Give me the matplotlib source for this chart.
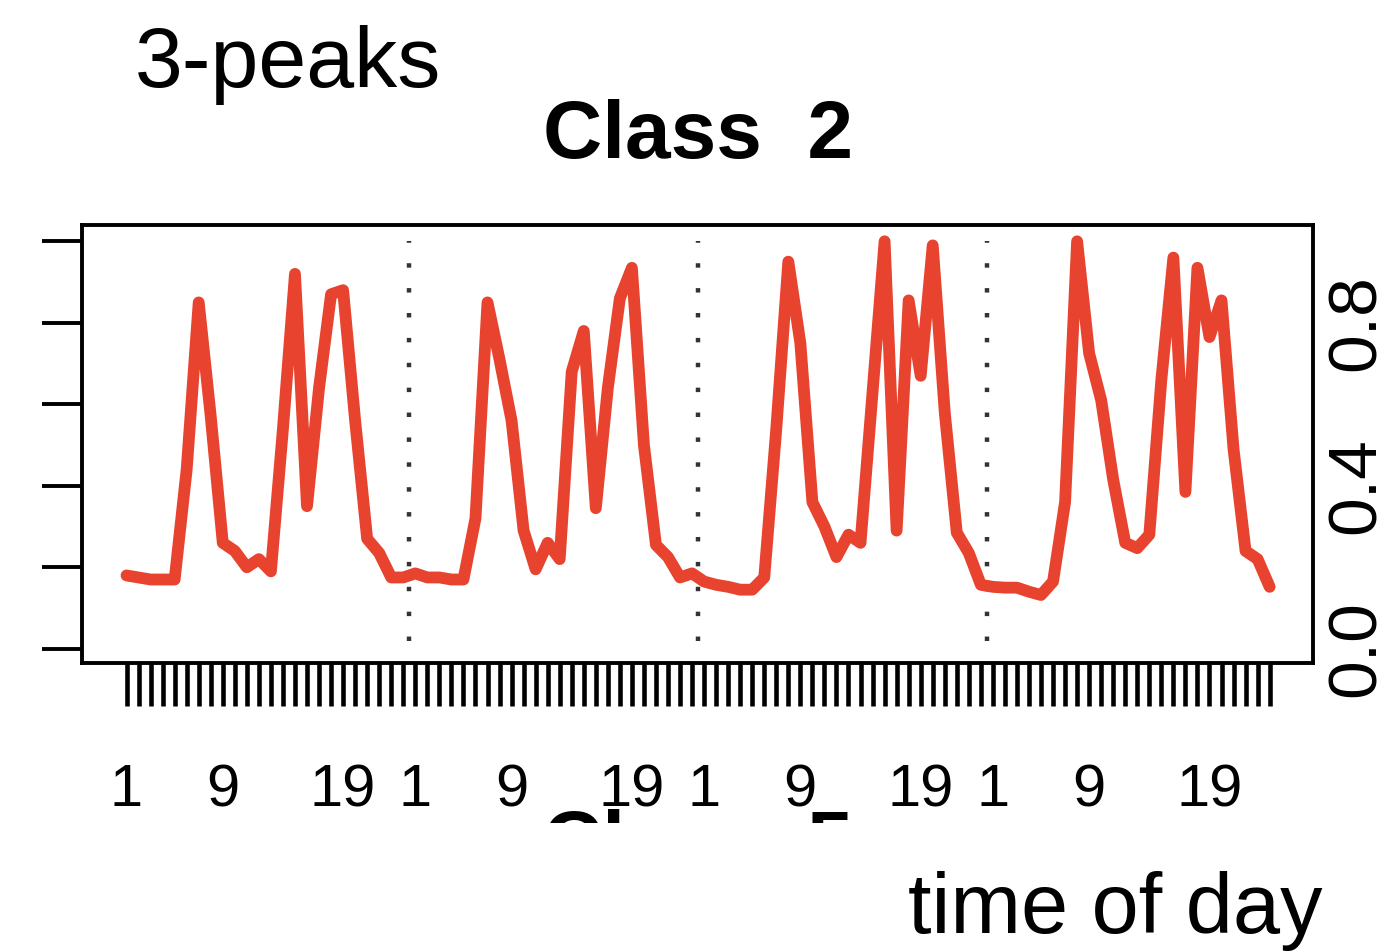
import numpy as np
import matplotlib
matplotlib.use("Agg")
import matplotlib.pyplot as plt
from matplotlib.transforms import Bbox, TransformedBbox

plt.rcParams["font.family"] = ["Liberation Sans", "DejaVu Sans"]

# hourly profile of class 2, four days of 24 hours
day1 = [0.18, 0.175, 0.17, 0.17, 0.17, 0.44, 0.85, 0.57, 0.26, 0.24, 0.20, 0.22,
        0.19, 0.54, 0.92, 0.35, 0.64, 0.87, 0.88, 0.56, 0.27, 0.235, 0.175, 0.175]
day2 = [0.185, 0.175, 0.175, 0.17, 0.17, 0.32, 0.85, 0.71, 0.56, 0.29, 0.195, 0.26,
        0.22, 0.68, 0.78, 0.345, 0.64, 0.86, 0.935, 0.50, 0.255, 0.225, 0.175, 0.185]
day3 = [0.165, 0.157, 0.152, 0.145, 0.145, 0.175, 0.54, 0.95, 0.75, 0.36, 0.30, 0.225,
        0.28, 0.26, 0.63, 1.0, 0.29, 0.855, 0.67, 0.99, 0.58, 0.285, 0.235, 0.157]
day4 = [0.152, 0.15, 0.15, 0.14, 0.132, 0.165, 0.36, 1.0, 0.725, 0.61, 0.415, 0.26,
        0.247, 0.28, 0.66, 0.96, 0.385, 0.935, 0.765, 0.855, 0.49, 0.24, 0.22, 0.152]

values = day1 + day2 + day3 + day4
hours = np.arange(1, len(values) + 1)

day_breaks = [24.5, 48.5, 72.5]
label_hours = [1, 9, 19]
left_ticks = [0.0, 0.2, 0.4, 0.6, 0.8, 1.0]
right_labels = ["0.0", "0.4", "0.8"]
right_label_pos = [0.0, 0.4, 0.8]

line_color = "#E8432F"

fig = plt.figure(figsize=(13.78, 9.51), dpi=100)
ax = fig.add_axes([0.0595, 0.3028, 0.8933, 0.4606])

ax.plot(
    hours,
    values,
    color=line_color,
    lw=8.5,
    solid_capstyle="round",
    solid_joinstyle="round",
    zorder=3
)

ax.vlines(
    day_breaks,
    0.02,
    1.0,
    colors="#333333",
    lw=3.2,
    linestyles=(0, (1.0, 4.6)),
    zorder=2
)

ax.set_xlim(-2.7, 99.6)
ax.set_ylim(-0.035, 1.04)

for side in ax.spines.values():
    side.set_linewidth(2.8)

# x ticks: every hour, labels at 1, 9, 19 of each day
xlabels = []
for h in hours:
    hod = (h - 1) % 24 + 1
    xlabels.append(str(hod) if hod in label_hours else "")

ax.set_xticks(hours, labels=xlabels)
ax.tick_params(
    axis="x",
    direction="out",
    length=31,
    width=3.3,
    pad=41,
    labelsize=43
)

ax.set_yticks(left_ticks, labels=[""] * len(left_ticks))
ax.tick_params(axis="y", direction="out", length=29, width=2.8)

for pos, lab in zip(right_label_pos, right_labels):
    ax.text(
        1.0095, pos, lab,
        transform=ax.get_yaxis_transform(),
        rotation=90,
        ha="left",
        va="center",
        fontsize=50,
        clip_on=False
    )

fig.text(0.5062, 0.8339, "Class  2", ha="center", va="baseline",
         fontsize=59, fontweight="bold")

# next panel title, cut off by the crop
cut = fig.text(0.5062, 0.0873, "Class  5", ha="center", va="baseline",
               fontsize=59, fontweight="bold")
cut.set_clip_box(TransformedBbox(Bbox([[0, 0.1346], [1, 1]]), fig.transFigure))
cut.set_clip_on(True)

fig.text(0.0980, 0.9085, "3-peaks", ha="left", va="baseline", fontsize=62)
fig.text(0.6590, 0.0189, "time of day", ha="left", va="baseline", fontsize=61)

fig.savefig("out.png", dpi=100, facecolor="white")
